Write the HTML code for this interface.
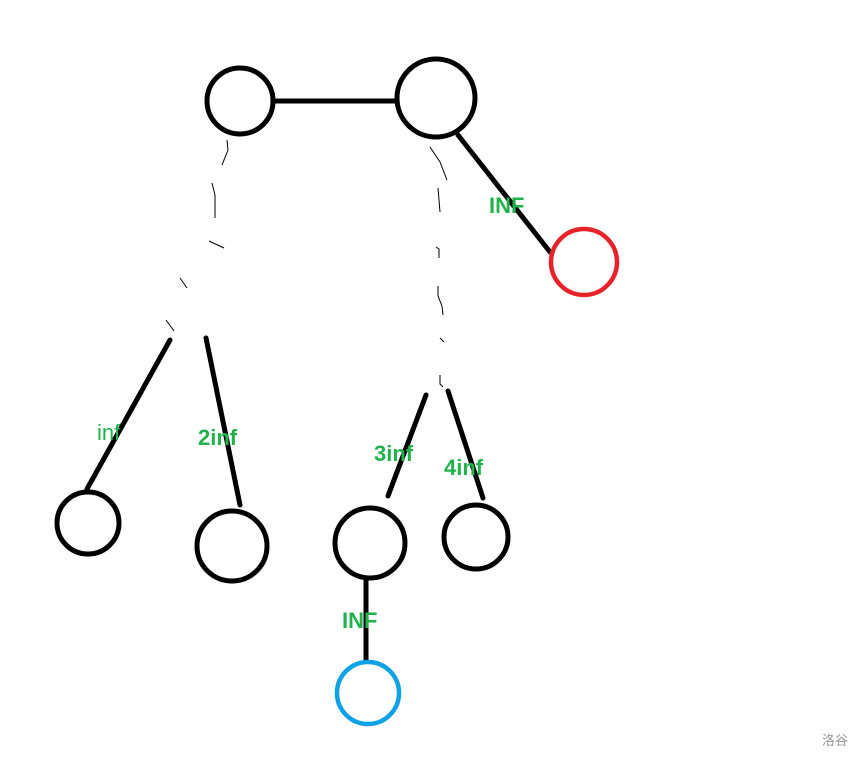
<!DOCTYPE html>
<html><head><meta charset="utf-8"><style>
html,body{margin:0;padding:0;background:#fff;width:863px;height:759px;overflow:hidden}
</style></head><body>
<svg width="863" height="759" xmlns="http://www.w3.org/2000/svg">
<g fill="none" stroke="#000" stroke-width="5" stroke-linecap="round">
<line x1="274" y1="101" x2="396" y2="101"/>
<line x1="458" y1="135" x2="550" y2="252"/>
<line x1="170" y1="340" x2="87" y2="489"/>
<line x1="206" y1="338" x2="240" y2="505"/>
<line x1="426" y1="395" x2="388" y2="496"/>
<line x1="448" y1="391" x2="483" y2="498"/>
<line x1="366" y1="580" x2="366" y2="660"/>
<circle cx="240" cy="101" r="33"/>
<circle cx="436" cy="98" r="39"/>
<circle cx="88" cy="523" r="31"/>
<circle cx="232" cy="546" r="35"/>
<circle cx="370" cy="543" r="35"/>
<circle cx="476" cy="537" r="32"/>
</g>
<circle cx="584" cy="262" r="33" fill="none" stroke="#e8222a" stroke-width="4.5"/>
<circle cx="368" cy="693" r="31" fill="none" stroke="#0ea1e6" stroke-width="4.5"/>
<g fill="none" stroke="#000" stroke-width="1">
<polyline points="227,140 228,150 222,165"/>
<polyline points="212,183 215,195 215,218"/>
<polyline points="209,241 224,248"/>
<polyline points="180,278 187,288"/>
<polyline points="166,320 174,331"/>
<polyline points="430,147 440,162 447,180"/>
<polyline points="438,188 440,212"/>
<polyline points="436,247 439,249 439,258"/>
<polyline points="438,286 438,296 442,306 443,315"/>
<polyline points="440,338 444,342"/>
<polyline points="440,375 440,384 443,387"/>
</g>
<g font-family="Liberation Sans, sans-serif" font-size="22" font-weight="bold" fill="#22b14c">
<text x="489" y="213">INF</text>
<text x="97" y="440" font-weight="normal">inf</text>
<text x="198" y="445">2inf</text>
<text x="374" y="461">3inf</text>
<text x="444" y="475">4inf</text>
<text x="342" y="628">INF</text>
</g>
<text x="822" y="745" font-family="Liberation Sans, Noto Sans CJK SC, sans-serif" font-size="13" fill="#999">洛谷</text>
</svg>
</body></html>
